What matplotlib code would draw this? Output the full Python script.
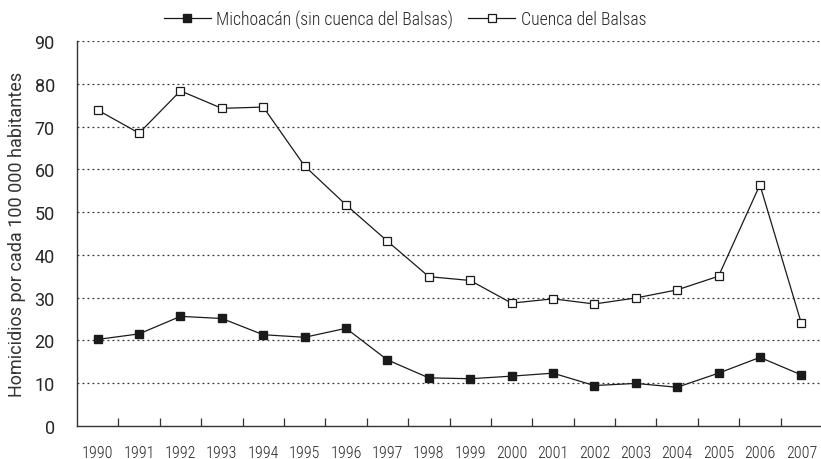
import matplotlib
matplotlib.use("Agg")
import matplotlib.pyplot as plt
from matplotlib.font_manager import FontProperties

years = [str(y) for y in range(1990, 2008)]
michoacan = [20.2, 21.5, 25.6, 25.1, 21.3, 20.7, 22.8, 15.4, 11.2, 11.0, 11.6, 12.3, 9.4, 9.9, 9.0, 12.3, 16.0, 11.9]
cuenca = [73.9, 68.5, 78.4, 74.3, 74.6, 60.8, 51.7, 43.2, 34.9, 34.0, 28.7, 29.7, 28.5, 29.9, 31.8, 35.0, 56.4, 24.0]
yticks = [0, 10, 20, 30, 40, 50, 60, 70, 80, 90]
label_m = "Michoacán (sin cuenca del Balsas)"
label_c = "Cuenca del Balsas"
ylabel = "Homicidios por cada 100 000 habitantes"

plt.rcParams['font.family'] = ['Roboto', 'DejaVu Sans']

cond = ['Roboto Condensed', 'Roboto', 'DejaVu Sans']
reg = ['Roboto', 'DejaVu Sans']
txt_color = '#262626'

fig = plt.figure(figsize=(8.21, 4.60), dpi=100)
ax = fig.add_axes([77/821, 33.3/460, 745/821, 384.4/460])

x = list(range(len(years)))
ax.plot(x, michoacan, color='#1a1a1a', lw=0.9, marker='s', markersize=6,
        markerfacecolor='#1a1a1a', markeredgecolor='#1a1a1a', label=label_m, clip_on=False)
ax.plot(x, cuenca, color='#1a1a1a', lw=0.9, marker='s', markersize=6,
        markerfacecolor='white', markeredgecolor='#1a1a1a', markeredgewidth=0.9, label=label_c, clip_on=False)

ax.set_xlim(-0.5, len(years) - 0.5)
ax.set_ylim(0, 90)
ax.set_yticks(yticks)
ax.set_yticklabels([str(v) for v in yticks], fontproperties=FontProperties(family=reg, weight='normal', size=13), color=txt_color)
ax.tick_params(axis='y', length=0, pad=16)

ax.set_xticks(x)
ax.set_xticklabels(years, fontproperties=FontProperties(family=cond, weight='light', size=11.5), color=txt_color)
ax.tick_params(axis='x', which='major', length=0, pad=14)
ax.set_xticks([i + 0.5 for i in range(len(years) - 1)], minor=True)
ax.tick_params(axis='x', which='minor', direction='in', length=6, width=0.9, color='#333333')

for v in yticks[1:]:
    ax.axhline(v, color='#333333', lw=0.9, ls=(0, (1.5, 2.5)), zorder=0)

for s in ['top', 'right']:
    ax.spines[s].set_visible(False)
for s in ['left', 'bottom']:
    ax.spines[s].set_color('#333333')
    ax.spines[s].set_linewidth(1.0)

ax.set_ylabel(ylabel, fontproperties=FontProperties(family=reg, weight='normal', size=13), color='#333333', labelpad=6)

leg = fig.legend(loc='upper center', bbox_to_anchor=(0.4933, 1.0), ncol=2, frameon=False,
           prop=FontProperties(family=cond, weight='light', size=12.8),
           handlelength=2.65, columnspacing=0.85, handletextpad=0.3,
           borderaxespad=0.2)
for t in leg.get_texts():
    t.set_color(txt_color)

fig.savefig("out.png", dpi=100)
